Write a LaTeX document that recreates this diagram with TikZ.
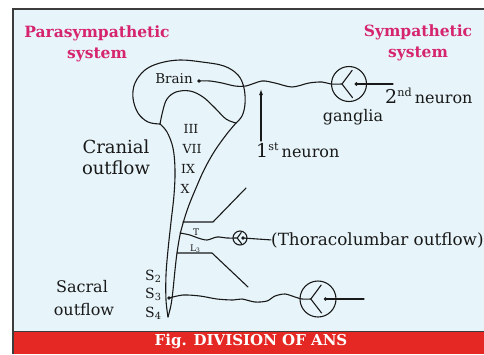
\documentclass[tikz,border=0pt]{standalone}
\usepackage{fontspec}
\setmainfont{DejaVu Serif}
\usetikzlibrary{arrows.meta}
\definecolor{bgblue}{RGB}{231,245,250}
\definecolor{titlepink}{RGB}{214,36,110}
\definecolor{bandred}{RGB}{229,40,36}
\definecolor{framegray}{RGB}{60,60,60}
\definecolor{ink}{RGB}{25,25,25}

\tikzset{
  nerve/.style={draw=ink,line width=1.1pt,line cap=round,line join=round},
  heading/.style={font=\fontsize{15.5}{18}\selectfont\bfseries,text=titlepink,inner sep=0pt,anchor=base},
  lbl/.style={font=\fontsize{16}{18}\selectfont,text=ink,inner sep=0pt,anchor=base},
  numeral/.style={font=\fontsize{12.5}{14}\selectfont,text=ink,inner sep=0pt,anchor=base},
  segment/.style={font=\fontsize{9}{10}\selectfont,text=ink,inner sep=0pt,anchor=base west},
  ganglion/.pic={
    \draw[nerve] (0,0) circle[radius=#1];
    \draw[nerve] (0.18*#1,-0.78*#1) -- (-0.4*#1,0) -- (0.2*#1,0.78*#1);
    \fill[ink] (0.42*#1,0) circle[radius=1.9];
    \coordinate (-in) at (-0.4*#1,0);
    \coordinate (-out) at (0.42*#1,0);
  }
}

\begin{document}
\begin{tikzpicture}[x=1pt,y=-1pt]
\useasboundingbox (0,0) rectangle (484,354);

% panel, caption band and frame
\fill[bgblue] (13,9) rectangle (484,354);
\fill[bandred] (13,331) rectangle (484,354);
\draw[framegray,line width=0.9pt] (13,331) -- (484,331);
\draw[framegray,line width=2pt] (13,354) -- (13,9) -- (484,9);

% headings
\node[heading] (para)    at (97,37)  {Parasympathetic};
\node[heading] (parasys) at (97,58)  {system};
\node[heading] (symp)    at (418,36) {Sympathetic};
\node[heading] (sympsys) at (418,57) {system};

% brain and spinal cord outline
\coordinate (tip)   at (168,317);
\coordinate (junc)  at (160,124);
\coordinate (brend) at (236,123);
\draw[nerve] plot[smooth,tension=0.6] coordinates {(tip) (166,300) (166,275) (168,250) (171,222) (174,195) (175,170) (173,148) (167,132) (junc)};
\draw[nerve] plot[smooth,tension=0.6] coordinates {(junc) (148,122) (138,113) (133,98) (135,83) (145,70) (160,63) (180,60) (202,62) (224,66) (238,75) (244,88) (245,104) (242,116) (brend)};
\draw[nerve] plot[smooth,tension=0.6] coordinates {(junc) (163,110) (167,99) (176,92) (190,91) (203,97) (215,108) (226,119) (brend)};
\draw[nerve] plot[smooth,tension=0.6] coordinates {(brend) (226,135) (214,152) (204,170) (196,188) (189,205) (184,220) (180,235) (177,253) (175,270) (173,290) (171,305) (tip)};

% cranial labels
\node[lbl,font=\fontsize{13.5}{14}\selectfont] (brain) at (174,83) {Brain};
\node[numeral] (n3)  at (191,133) {III};
\node[numeral] (n7)  at (192,153) {VII};
\node[numeral] (n9)  at (188,173) {IX};
\node[numeral] (n10) at (185,193) {X};
\node[lbl,font=\fontsize{18}{20}\selectfont] (cran)  at (116,153) {Cranial};
\node[lbl,font=\fontsize{18}{20}\selectfont] (cranf) at (116,174) {outflow};

% sacral labels
\node[lbl] (sacr)  at (82,292) {Sacral};
\node[lbl] (sacrf) at (84,315) {outflow};
\node[lbl,font=\fontsize{14}{15}\selectfont,anchor=base west] (s2) at (145,280) {S\textsubscript{2}};
\node[lbl,font=\fontsize{14}{15}\selectfont,anchor=base west] (s3) at (145,298) {S\textsubscript{3}};
\node[lbl,font=\fontsize{14}{15}\selectfont,anchor=base west] (s4) at (145,317) {S\textsubscript{4}};

% ganglia
\pic (gA) at (349,84)  {ganglion=17.5};
\pic (gB) at (240,238) {ganglion=7};
\pic (gC) at (318,299) {ganglion=18};

% cranial nerve: brain to ganglion, second neuron onward
\coordinate (braindot) at (199,81);
\fill[ink] (braindot) circle[radius=1.8];
\draw[nerve] plot[smooth] coordinates {(braindot) (210,81) (222,83) (235,86) (246,86) (262,81) (275,83) (292,87) (309,83) (322,82) (331,84) (gA-in)};
\coordinate (gAend) at (393,84);
\draw[nerve] (gA-out) -- (gAend);

% first neuron pointer
\coordinate (arrTail) at (261,141);
\coordinate (arrHead) at (261,89);
\draw[nerve,-{Latex[length=6pt,width=4pt]}] (arrTail) -- (arrHead);
\node[lbl,anchor=base west] (first) at (256,157) {{\fontsize{19}{19}\selectfont 1}\textsuperscript{st}\,neuron};
\node[lbl,anchor=base west] (second) at (385,103) {{\fontsize{19}{19}\selectfont 2}\textsuperscript{nd}\,neuron};
\node[lbl] (gang) at (353,121) {ganglia};

% thoracolumbar outflow
\coordinate (tA) at (183,222);
\coordinate (tB) at (213,222);
\coordinate (tC) at (246,188);
\draw[nerve] (tA) -- (tB) -- (tC);
\coordinate (lA) at (177,253);
\coordinate (lB) at (212,253);
\coordinate (lC) at (248,287);
\draw[nerve] (lA) -- (lB) -- (lC);
\coordinate (mid) at (180,233);
\draw[nerve] plot[smooth] coordinates {(mid) (190,235) (198,238) (207,240) (217,237) (227,238) (gB-in)};
\node[segment] (tl) at (193,235) {T};
\node[segment] (ll) at (190,251) {L\textsubscript{3}};
\node[lbl,font=\fontsize{16.8}{18}\selectfont,anchor=base west] (thoraco) at (271,245) {(Thoracolumbar outflow)};
\draw[nerve] (gB-out) -- (thoraco.west);

% sacral outflow
\coordinate (sacdot) at (169,298);
\fill[ink] (sacdot) circle[radius=1.8];
\draw[nerve] plot[smooth] coordinates {(sacdot) (183,295) (200,296) (217,299) (233,300) (242,299) (255,302) (267,301) (275,296) (285,294) (295,297) (302,299) (gC-in)};
\coordinate (gCend) at (364,299);
\draw[nerve] (gC-out) -- (gCend);

% caption
\node[font=\fontsize{15}{17}\selectfont\bfseries,text=white,inner sep=0pt,anchor=base] (cap) at (251,345) {Fig. DIVISION OF ANS};
\end{tikzpicture}
\end{document}
